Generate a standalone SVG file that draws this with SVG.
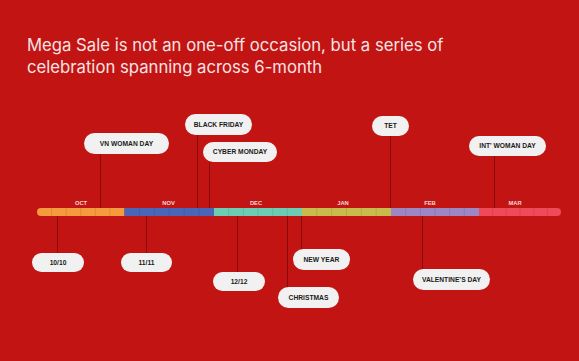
<svg xmlns="http://www.w3.org/2000/svg" width="579" height="361" viewBox="0 0 579 361">
<style>
.title{font-family:Inter,"Liberation Sans",sans-serif;font-size:16.7px;fill:#F6E4E4}
.mon{font-family:"Liberation Sans",Arial,sans-serif;font-size:5.8px;font-weight:bold;fill:#F3D6D6;text-anchor:middle}
.pill{fill:#F1F1F1}
.lbl{font-family:"Liberation Sans",Arial,sans-serif;font-size:6.7px;font-weight:bold;fill:#1a1a1a;text-anchor:middle}
.con{stroke:#8A0B0B;stroke-width:1;fill:none}
.div{stroke:#000;stroke-opacity:0.12;stroke-width:0.8}
</style>
<defs>
<clipPath id="barclip"><rect x="37" y="208" width="524" height="8" rx="4"/></clipPath>
</defs>
<rect width="579" height="361" fill="#C31414"/>
<text class="title" x="27" y="50.5">Mega Sale is not an one-off occasion, but a series of</text>
<text class="title" x="27" y="72.5">celebration spanning across 6-month</text>
<g id="connectors">
<line class="con" x1="100.5" y1="154" x2="100.5" y2="208"/>
<line class="con" x1="197.5" y1="135" x2="197.5" y2="208"/>
<line class="con" x1="209.5" y1="162" x2="209.5" y2="208"/>
<line class="con" x1="390.5" y1="136" x2="390.5" y2="208"/>
<line class="con" x1="494.5" y1="156" x2="494.5" y2="208"/>
<line class="con" x1="57.5" y1="216" x2="57.5" y2="253"/>
<line class="con" x1="146.5" y1="216" x2="146.5" y2="253"/>
<line class="con" x1="237.5" y1="216" x2="237.5" y2="272"/>
<line class="con" x1="287.5" y1="216" x2="287.5" y2="287"/>
<line class="con" x1="301.5" y1="216" x2="301.5" y2="249"/>
<line class="con" x1="422.5" y1="216" x2="422.5" y2="269"/>
</g>
<g id="timeline">
<g clip-path="url(#barclip)">
<rect x="37" y="208" width="87.5" height="8" fill="#F59A3D"/>
<rect x="124.5" y="208" width="89.5" height="8" fill="#4A66B8"/>
<rect x="214" y="208" width="88" height="8" fill="#6DCDB3"/>
<rect x="302" y="208" width="89" height="8" fill="#C9BA4C"/>
<rect x="391" y="208" width="88" height="8" fill="#9C86C4"/>
<rect x="479" y="208" width="82" height="8" fill="#EE4A5A"/>
<g class="div">
<line x1="51.6" y1="208" x2="51.6" y2="216"/><line x1="66.2" y1="208" x2="66.2" y2="216"/><line x1="80.8" y1="208" x2="80.8" y2="216"/><line x1="95.3" y1="208" x2="95.3" y2="216"/><line x1="109.9" y1="208" x2="109.9" y2="216"/>
<line x1="139.4" y1="208" x2="139.4" y2="216"/><line x1="154.3" y1="208" x2="154.3" y2="216"/><line x1="169.2" y1="208" x2="169.2" y2="216"/><line x1="184.2" y1="208" x2="184.2" y2="216"/><line x1="199.1" y1="208" x2="199.1" y2="216"/>
<line x1="228.7" y1="208" x2="228.7" y2="216"/><line x1="243.3" y1="208" x2="243.3" y2="216"/><line x1="258" y1="208" x2="258" y2="216"/><line x1="272.7" y1="208" x2="272.7" y2="216"/><line x1="287.3" y1="208" x2="287.3" y2="216"/>
<line x1="316.8" y1="208" x2="316.8" y2="216"/><line x1="331.7" y1="208" x2="331.7" y2="216"/><line x1="346.5" y1="208" x2="346.5" y2="216"/><line x1="361.3" y1="208" x2="361.3" y2="216"/><line x1="376.2" y1="208" x2="376.2" y2="216"/>
<line x1="405.7" y1="208" x2="405.7" y2="216"/><line x1="420.3" y1="208" x2="420.3" y2="216"/><line x1="435" y1="208" x2="435" y2="216"/><line x1="449.7" y1="208" x2="449.7" y2="216"/><line x1="464.3" y1="208" x2="464.3" y2="216"/>
<line x1="492.7" y1="208" x2="492.7" y2="216"/><line x1="506.3" y1="208" x2="506.3" y2="216"/><line x1="520" y1="208" x2="520" y2="216"/><line x1="533.7" y1="208" x2="533.7" y2="216"/><line x1="547.3" y1="208" x2="547.3" y2="216"/>
</g>
</g>
<text class="mon" x="81" y="204.5">OCT</text>
<text class="mon" x="168.5" y="204.5">NOV</text>
<text class="mon" x="256" y="204.5">DEC</text>
<text class="mon" x="343" y="204.5">JAN</text>
<text class="mon" x="430" y="204.5">FEB</text>
<text class="mon" x="515" y="204.5">MAR</text>
</g>
<g id="vn-woman-day"><rect class="pill" x="84" y="133" width="85" height="21" rx="10.5"/><text class="lbl" x="126.5" y="145.8">VN WOMAN DAY</text></g>
<g id="black-friday"><rect class="pill" x="185" y="114" width="67" height="21" rx="10.5"/><text class="lbl" x="218.5" y="126.8">BLACK FRIDAY</text></g>
<g id="cyber-monday"><rect class="pill" x="203" y="142" width="74" height="20" rx="10"/><text class="lbl" x="240" y="154.3">CYBER MONDAY</text></g>
<g id="tet"><rect class="pill" x="372" y="116" width="37" height="20" rx="10"/><text class="lbl" x="390.5" y="128.3">TET</text></g>
<g id="intl-woman-day"><rect class="pill" x="469" y="136" width="77" height="20" rx="10"/><text class="lbl" x="507.5" y="148.3">INT' WOMAN DAY</text></g>
<g id="d1010"><rect class="pill" x="32" y="253" width="52" height="19" rx="9.5"/><text class="lbl" x="58" y="264.8">10/10</text></g>
<g id="d1111"><rect class="pill" x="121" y="253" width="51" height="19" rx="9.5"/><text class="lbl" x="146.5" y="264.8">11/11</text></g>
<g id="d1212"><rect class="pill" x="213" y="272" width="52" height="19" rx="9.5"/><text class="lbl" x="239" y="283.8">12/12</text></g>
<g id="new-year"><rect class="pill" x="293" y="249" width="57" height="21" rx="10.5"/><text class="lbl" x="321.5" y="261.8">NEW YEAR</text></g>
<g id="christmas"><rect class="pill" x="278" y="287" width="61" height="21" rx="10.5"/><text class="lbl" x="308.5" y="299.8">CHRISTMAS</text></g>
<g id="valentines-day"><rect class="pill" x="413" y="269" width="77" height="21" rx="10.5"/><text class="lbl" x="451.5" y="281.8">VALENTINE’S DAY</text></g>
</svg>
